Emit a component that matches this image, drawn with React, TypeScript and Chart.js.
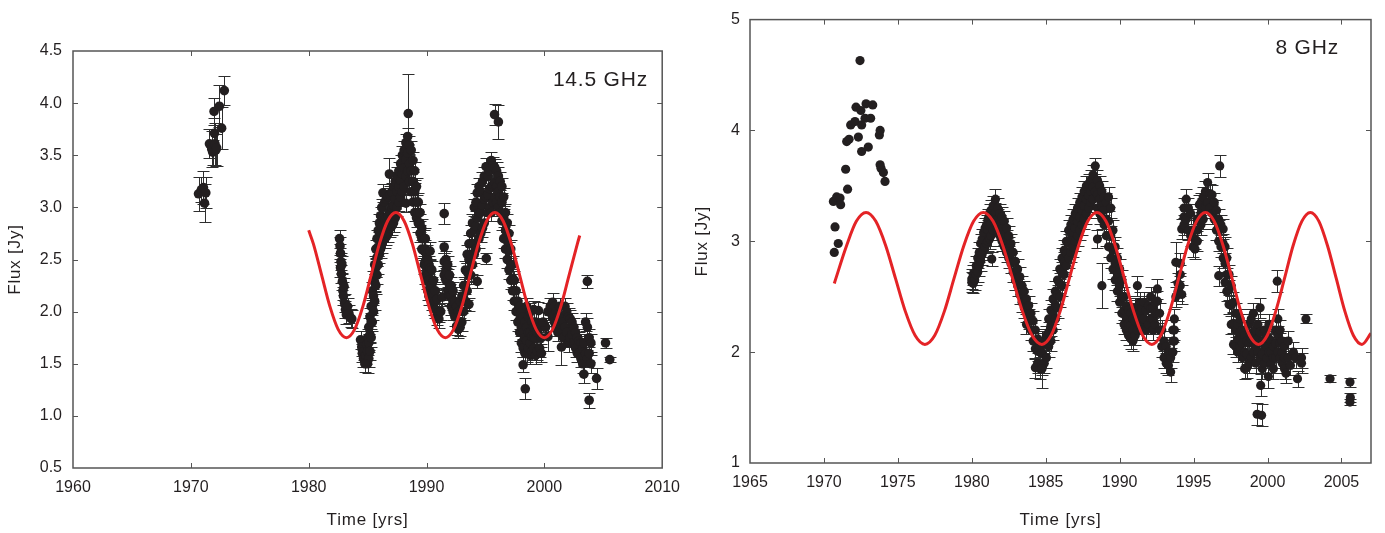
import React, { useEffect, useRef } from 'react';
import { Chart, registerables } from 'chart.js';

Chart.register(...registerables);

const FONT = "'Liberation Sans', Arial, Helvetica, sans-serif";
const INK = '#231f20';
const RED = '#e42326';

// ---------------- 14.5 GHz (left panel) ----------------
// [year, flux, error]
const L_EARLY: number[][] = [
  [1970.65, 3.13, 0.16], [1970.9, 3.17, 0.12], [1971.07, 3.19, 0.16], [1971.16, 3.04, 0.18],
  [1971.27, 3.14, 0.15], [1971.58, 3.61, 0.14], [1971.77, 3.56, 0.17], [1971.85, 3.53, 0.12],
  [1971.97, 3.92, 0.13], [1972.0, 3.71, 0.15], [1972.05, 3.61, 0.2], [1972.12, 3.55, 0.15],
  [1972.19, 3.57, 0.17], [1972.42, 3.97, 0.2], [1972.61, 3.76, 0.2], [1972.84, 4.12, 0.14],
];

// [year, flux, flux, ...] observations near that epoch, typical error L_ERR
const L_ERR = 0.085;
const L_BAND: number[][] = [
  [1982.62, 2.70], [1982.66, 2.63], [1982.70, 2.56, 2.42], [1982.74, 2.48], [1982.78, 2.36],
  [1982.82, 2.45], [1982.86, 2.29], [1982.90, 2.20], [1982.95, 2.15], [1983.00, 2.24],
  [1983.05, 2.08], [1983.12, 2.02], [1983.20, 1.97], [1983.30, 2.05], [1983.42, 1.98],
  [1983.55, 1.94], [1983.66, 1.93],
  [1984.40, 1.73], [1984.50, 1.66], [1984.55, 1.60], [1984.65, 1.55], [1984.72, 1.62],
  [1984.85, 1.58], [1984.92, 1.68],
  [1985.00, 1.50, 1.62, 1.75], [1985.10, 1.55, 1.70, 1.85], [1985.20, 1.62, 1.78, 1.95],
  [1985.30, 1.75, 1.90, 2.05], [1985.40, 1.90, 2.05, 2.20], [1985.50, 2.00, 2.15, 2.30],
  [1985.60, 2.10, 2.28, 2.45], [1985.70, 2.25, 2.42, 2.60], [1985.80, 2.35, 2.52, 2.70],
  [1985.90, 2.45, 2.62, 2.78], [1986.00, 2.55, 2.70, 2.85], [1986.10, 2.60, 2.76, 2.92],
  [1986.20, 2.65, 2.82, 3.00], [1986.30, 2.70, 2.90, 3.14], [1986.45, 2.70, 2.88, 3.05],
  [1986.60, 2.72, 2.90, 3.08], [1986.75, 2.75, 2.92, 3.10], [1986.90, 2.80, 2.96, 3.12],
  [1987.05, 2.82, 3.00, 3.15], [1987.20, 2.85, 3.02, 3.20], [1987.35, 2.90, 3.08, 3.25],
  [1987.50, 3.00, 3.15, 3.30], [1987.65, 3.05, 3.20, 3.35], [1987.80, 3.10, 3.26, 3.42],
  [1987.95, 3.15, 3.32, 3.50], [1988.10, 3.20, 3.38, 3.55], [1988.25, 3.30, 3.46, 3.62, 3.04],
  [1988.40, 3.35, 3.52, 3.68], [1988.55, 3.25, 3.42, 3.60], [1988.70, 3.15, 3.35, 3.55],
  [1988.85, 3.05, 3.25, 3.45], [1989.00, 2.95, 3.15, 3.35], [1989.15, 2.90, 3.05, 3.20],
  [1989.30, 2.85, 2.95, 3.05], [1989.45, 2.75, 2.85, 2.95], [1989.60, 2.60, 2.70, 2.80],
  [1989.80, 2.45, 2.58, 2.70], [1989.90, 2.35, 2.48, 2.60], [1990.00, 2.30, 2.42, 2.55],
  [1990.10, 2.20, 2.35, 2.50], [1990.20, 2.15, 2.30, 2.45], [1990.30, 2.25, 2.42, 2.58],
  [1990.45, 2.10, 2.25, 2.40], [1990.60, 2.05, 2.18, 2.30], [1990.75, 2.02, 2.10, 2.20],
  [1990.90, 1.96, 2.12], [1991.05, 1.99, 1.93], [1991.20, 2.00], [1991.35, 2.14],
  [1991.50, 2.48, 2.35], [1991.65, 2.30, 2.40, 2.50], [1991.80, 2.20, 2.32, 2.45],
  [1991.95, 2.15, 2.25, 2.35], [1992.10, 2.05, 2.15, 2.25], [1992.25, 2.00, 2.10, 2.20],
  [1992.40, 1.95, 2.10], [1992.55, 1.86, 2.05], [1992.70, 1.83, 2.00], [1992.85, 1.85, 2.10],
  [1993.00, 1.90, 2.15], [1993.15, 2.00, 2.12, 2.25], [1993.30, 2.10, 2.25, 2.40],
  [1993.45, 2.20, 2.38, 2.55], [1993.60, 2.35, 2.50, 2.65], [1993.75, 2.35, 2.55, 2.75],
  [1993.90, 2.45, 2.65, 2.85], [1994.05, 2.55, 2.78, 3.00], [1994.20, 2.60, 2.82, 3.05],
  [1994.30, 2.90, 3.14], [1994.45, 2.70, 2.95, 3.20], [1994.60, 2.75, 2.95, 3.15],
  [1994.75, 2.80, 3.02, 3.25], [1994.90, 2.85, 3.08, 3.30], [1995.05, 3.10, 3.39],
  [1995.20, 2.95, 3.12, 3.30], [1995.35, 3.00, 3.18, 3.35], [1995.50, 2.95, 3.20, 3.45],
  [1995.65, 3.05, 3.22, 3.40], [1995.80, 3.10, 3.24, 3.38], [1995.95, 3.05, 3.20, 3.35],
  [1996.10, 3.00, 3.15, 3.30], [1996.25, 2.95, 3.10, 3.25], [1996.40, 2.87, 3.05, 3.20],
  [1996.55, 2.70, 2.90, 3.10], [1996.70, 2.60, 2.78, 2.95], [1996.85, 2.50, 2.68, 2.85],
  [1997.00, 2.40, 2.58, 2.75], [1997.15, 2.30, 2.45, 2.60], [1997.30, 2.20, 2.32, 2.45],
  [1997.45, 2.10, 2.20, 2.30], [1997.60, 2.00, 2.10, 2.20], [1997.75, 1.90, 2.00, 2.10],
  [1997.90, 1.80, 1.92, 2.05], [1998.05, 1.70, 1.85, 2.00], [1998.20, 1.65, 1.80, 1.95],
  [1998.35, 1.60, 1.75, 1.90], [1998.50, 1.60, 1.72, 1.85, 2.05], [1998.65, 1.65, 1.80, 1.95],
  [1998.80, 1.58, 1.70, 1.80, 2.00], [1998.95, 1.62, 1.76, 1.90], [1999.10, 1.65, 1.75, 1.85, 2.02],
  [1999.25, 1.58, 1.74, 1.90], [1999.40, 1.62, 1.80], [1999.60, 1.65, 1.85], [1999.75, 1.60, 1.75],
  [2000.10, 1.85], [2000.30, 2.00], [2000.50, 2.05],
  [2000.70, 2.09, 1.95], [2000.85, 2.05, 1.90], [2001.00, 2.00, 1.85], [2001.15, 1.95, 1.80],
  [2001.30, 2.05, 1.88], [2001.45, 1.95], [2001.60, 1.90, 1.75], [2001.75, 2.05, 1.85],
  [2001.90, 2.00, 1.80], [2002.05, 1.95, 1.70], [2002.20, 1.93, 1.75], [2002.35, 1.90, 1.78],
  [2002.50, 1.85, 1.70], [2002.65, 1.80, 1.65], [2002.80, 1.75, 1.60], [2002.95, 1.72, 1.60],
  [2003.10, 1.70, 1.55], [2003.25, 1.65, 1.50], [2003.35, 1.70], [2003.50, 1.90, 1.60],
  [2003.65, 1.85, 1.55], [2003.80, 1.75, 1.60], [2003.95, 1.70, 1.50],
];

// [year, flux, error] isolated points with their own error bars
const L_SINGLE: number[][] = [
  [1984.77, 1.50, 0.08], [1986.85, 3.32, 0.15], [1988.45, 3.90, 0.38], [1989.90, 2.70, 0.10],
  [1991.50, 2.94, 0.10], [1991.50, 2.62, 0.06], [1993.60, 2.07, 0.06], [1994.30, 2.29, 0.06],
  [1995.07, 2.51, 0.05], [1995.77, 3.89, 0.10], [1996.10, 3.82, 0.16], [1998.20, 1.49, 0.07],
  [1998.38, 1.26, 0.10], [1999.50, 2.01, 0.08], [1999.90, 1.90, 0.10], [2000.30, 1.76, 0.14],
  [2001.45, 1.66, 0.17], [2003.35, 1.40, 0.08], [2003.65, 2.29, 0.06], [2003.80, 1.15, 0.07],
  [2004.43, 1.36, 0.10], [2005.19, 1.70, 0.05], [2005.55, 1.54, 0.02],
];

const L_FIT_YEARS = [
  1980.0, 1980.4, 1981.1, 1981.8, 1982.5, 1983.2, 1983.9, 1984.6, 1985.3, 1986.0, 1986.7, 1987.4,
  1988.1, 1988.8, 1989.5, 1990.2, 1990.9, 1991.6, 1992.3, 1993.0, 1993.7, 1994.4, 1995.1, 1995.8,
  1996.5, 1997.2, 1997.9, 1998.6, 1999.3, 2000.0, 2000.7, 2001.4, 2002.1, 2002.8, 2003.0,
];
const L_FIT_FLUX = [
  2.78, 2.65, 2.35, 2.05, 1.83, 1.75, 1.83, 2.05, 2.35, 2.65, 2.87, 2.95,
  2.87, 2.65, 2.35, 2.05, 1.83, 1.75, 1.83, 2.05, 2.35, 2.65, 2.87, 2.95,
  2.87, 2.65, 2.35, 2.05, 1.83, 1.75, 1.83, 2.05, 2.35, 2.65, 2.73,
];

// ---------------- 8 GHz (right panel) ----------------
// [year, flux] early points without error bars
const R_EARLY: number[][] = [
  [1970.64, 3.36], [1970.70, 2.90], [1970.75, 3.13], [1970.86, 3.40], [1970.97, 2.98],
  [1971.09, 3.39], [1971.13, 3.33], [1971.47, 3.65], [1971.54, 3.90], [1971.60, 3.47],
  [1971.70, 3.92], [1971.81, 4.05], [1972.10, 4.08], [1972.17, 4.21], [1972.33, 3.94],
  [1972.44, 4.63], [1972.50, 4.18], [1972.55, 4.05, 3.81], [1972.78, 4.11], [1972.85, 4.24],
  [1973.00, 3.85], [1973.16, 4.11], [1973.30, 4.23], [1973.75, 3.96], [1973.80, 4.00, 3.69],
  [1973.86, 3.66], [1974.02, 3.62], [1974.13, 3.54],
];

const R_ERR = 0.09;
const R_BAND: number[][] = [
  [1980.00, 2.63, 2.66], [1980.10, 2.62, 2.70], [1980.20, 2.65, 2.72], [1980.30, 2.70, 2.78],
  [1980.40, 2.72, 2.85], [1980.50, 2.78, 2.90], [1980.60, 2.82, 2.98], [1980.70, 2.88, 3.02],
  [1980.80, 2.92, 3.08], [1980.90, 2.95, 3.12], [1981.00, 2.98, 3.15], [1981.10, 3.00, 3.10, 3.20],
  [1981.20, 3.02, 3.14, 3.25], [1981.30, 3.05, 3.16, 3.28], [1981.45, 3.10, 3.21, 3.32],
  [1981.60, 3.15, 3.26, 3.38], [1981.75, 3.10, 3.20, 3.30], [1981.90, 3.05, 3.15, 3.25],
  [1982.05, 3.00, 3.11, 3.22], [1982.20, 2.95, 3.06, 3.18], [1982.35, 2.90, 3.01, 3.12],
  [1982.50, 2.85, 2.95, 3.05], [1982.65, 2.80, 2.98], [1982.80, 2.72, 2.90],
  [1982.95, 2.65, 2.82], [1983.10, 2.60, 2.75], [1983.25, 2.52, 2.68], [1983.40, 2.45, 2.60],
  [1983.55, 2.40, 2.55], [1983.70, 2.25, 2.36, 2.48], [1983.85, 2.30, 2.42], [1984.00, 2.20, 2.35],
  [1984.15, 2.10, 2.28], [1984.30, 1.86, 2.03, 2.20], [1984.45, 1.90, 2.01, 2.12],
  [1984.60, 1.85, 2.05], [1984.75, 1.88, 1.99, 2.10], [1984.90, 1.90, 2.08], [1985.05, 1.95, 2.15],
  [1985.20, 2.05, 2.18, 2.30], [1985.35, 2.10, 2.24, 2.38], [1985.50, 2.20, 2.34, 2.48],
  [1985.65, 2.30, 2.42, 2.55], [1985.80, 2.40, 2.52, 2.65], [1985.95, 2.50, 2.62, 2.75],
  [1986.10, 2.60, 2.72, 2.85], [1986.25, 2.70, 2.81, 2.92], [1986.40, 2.78, 2.89, 3.00],
  [1986.55, 2.85, 2.98, 3.10], [1986.70, 2.90, 3.02, 3.15], [1986.85, 2.95, 3.08, 3.20],
  [1987.00, 3.00, 3.12, 3.25], [1987.15, 3.05, 3.18, 3.30], [1987.30, 3.10, 3.22, 3.35],
  [1987.45, 3.15, 3.28, 3.40], [1987.60, 3.20, 3.32, 3.45], [1987.75, 3.25, 3.38, 3.50],
  [1987.90, 3.30, 3.41, 3.52], [1988.05, 3.35, 3.45, 3.55], [1988.20, 3.38, 3.49, 3.60],
  [1988.35, 3.45], [1988.50, 3.30, 3.42, 3.55], [1988.65, 3.25, 3.38, 3.50],
  [1988.80, 3.20, 3.32, 3.45], [1988.95, 3.15, 3.28, 3.40], [1989.10, 3.05, 3.20, 3.35],
  [1989.25, 2.95, 3.18, 3.40], [1989.40, 2.85, 3.05, 3.30], [1989.55, 2.75, 2.92, 3.10],
  [1989.70, 2.65, 2.80, 2.95], [1989.85, 2.55, 2.70, 2.85], [1990.00, 2.45, 2.60, 2.75],
  [1990.15, 2.35, 2.50, 2.65], [1990.30, 2.25, 2.38, 2.50], [1990.45, 2.20, 2.31, 2.42],
  [1990.60, 2.15, 2.26, 2.38], [1990.75, 2.12, 2.24, 2.35], [1990.90, 2.10, 2.20, 2.30],
  [1991.05, 2.15, 2.28, 2.40], [1991.20, 2.20, 2.40, 2.60], [1991.35, 2.25, 2.35, 2.45],
  [1991.50, 2.20, 2.30, 2.40], [1991.65, 2.30, 2.45], [1991.80, 2.20, 2.38],
  [1991.95, 2.25, 2.42], [1992.10, 2.30, 2.40, 2.50], [1992.25, 2.20, 2.30, 2.40],
  [1992.40, 2.25, 2.35, 2.45], [1992.55, 2.35, 2.46, 2.57], [1992.70, 2.20, 2.35],
  [1992.85, 2.05, 2.20], [1993.00, 1.95, 2.10], [1993.15, 1.90, 2.05], [1993.30, 1.88, 2.00],
  [1993.45, 1.82, 1.95], [1993.60, 2.00, 2.10, 2.20], [1993.70, 2.10, 2.20, 2.30], [1993.80, 2.50],
  [1993.95, 2.55, 2.62], [1994.10, 2.60, 2.70, 2.80], [1994.20, 2.52, 3.11],
  [1994.35, 3.15, 3.22, 3.30], [1994.50, 3.20, 3.38], [1994.65, 3.10, 3.30], [1994.80, 3.05, 3.25],
  [1994.95, 2.95, 3.10], [1995.10, 2.93, 3.02], [1995.25, 3.00, 3.10, 3.20], [1995.39, 3.33],
  [1995.50, 3.15, 3.25, 3.35], [1995.65, 3.20, 3.30, 3.40], [1995.80, 3.30, 3.45],
  [1995.95, 3.35, 3.53], [1996.10, 3.30, 3.43], [1996.25, 3.25, 3.42], [1996.40, 3.20, 3.35],
  [1996.55, 3.10, 3.28], [1996.70, 3.00, 3.10, 3.20, 2.69], [1996.85, 2.95, 3.15],
  [1997.00, 2.85, 2.98, 3.11], [1997.13, 2.63, 2.80, 2.95], [1997.25, 2.55, 2.70, 2.85],
  [1997.40, 2.43, 2.56, 2.70], [1997.55, 2.25, 2.42, 2.60], [1997.70, 2.07, 2.26, 2.45],
  [1997.85, 2.05, 2.20, 2.35], [1998.00, 2.00, 2.12, 2.25], [1998.15, 2.05, 2.18, 2.30],
  [1998.30, 1.95, 2.08, 2.20], [1998.45, 1.85, 2.00, 2.15], [1998.60, 1.86, 1.98, 2.10],
  [1998.75, 1.90, 2.08, 2.25], [1998.90, 1.95, 2.12, 2.30], [1999.05, 2.00, 2.18, 2.35],
  [1999.20, 1.90, 2.05, 2.20], [1999.35, 2.00, 2.12, 2.25], [1999.50, 1.95, 2.18, 2.40],
  [1999.65, 1.85, 1.98, 2.10], [1999.80, 1.90, 2.05, 2.20], [1999.95, 1.95, 2.05, 2.15],
  [2000.10, 2.00, 2.12, 2.25], [2000.25, 1.90, 2.00, 2.10], [2000.40, 1.85, 1.95, 2.05],
  [2000.55, 1.95, 2.08, 2.20], [2000.70, 2.00, 2.15, 2.30], [2000.85, 1.95, 2.08, 2.20],
  [2001.00, 1.90, 2.00, 2.10], [2001.15, 1.85, 1.95, 2.05], [2001.25, 1.81],
  [2001.40, 1.95, 2.10], [2001.55, 1.88], [2001.75, 2.00], [2001.90, 1.95], [2002.30, 1.95, 1.90],
];

const R_SINGLE: number[][] = [
  [1981.35, 2.84, 0.06], [1984.75, 1.85, 0.17], [1988.35, 3.68, 0.07], [1988.50, 3.02, 0.08],
  [1988.80, 2.60, 0.20], [1993.80, 2.81, 0.18], [1996.77, 3.68, 0.10], [1999.30, 1.44, 0.10],
  [1999.54, 1.70, 0.10], [1999.60, 1.43, 0.10], [2000.06, 1.78, 0.10], [2000.66, 2.64, 0.10],
  [2002.03, 1.76, 0.07], [2002.60, 2.30, 0.04], [2004.23, 1.76, 0.03], [2005.58, 1.73, 0.04],
  [2005.60, 1.59, 0.04], [2005.58, 1.55, 0.03],
];

const R_FIT_YEARS = [
  1970.7, 1971.53, 1972.19, 1972.85, 1973.51, 1974.18, 1974.84, 1975.5, 1976.17, 1976.83,
  1977.49, 1978.15, 1978.8, 1979.46, 1980.12, 1980.78, 1981.44, 1982.1, 1982.76, 1983.42,
  1984.08, 1984.74, 1985.36, 1985.98, 1986.6, 1987.22, 1987.84, 1988.46, 1989.08, 1989.7,
  1990.32, 1990.94, 1991.56, 1992.18, 1992.78, 1993.39, 1993.99, 1994.59, 1995.2, 1995.8,
  1996.4, 1997.0, 1997.6, 1998.19, 1998.79, 1999.39, 1999.98, 2000.56, 2001.15, 2001.73,
  2002.32, 2002.9, 2003.48, 2004.06, 2004.65, 2005.23, 2005.81, 2006.39, 2007.0,
];
const R_FIT_FLUX = [
  2.62, 2.96, 3.18, 3.26, 3.18, 2.96, 2.665, 2.37, 2.15, 2.07,
  2.15, 2.37, 2.665, 2.96, 3.18, 3.26, 3.18, 2.96, 2.665, 2.37,
  2.15, 2.07, 2.15, 2.37, 2.665, 2.96, 3.18, 3.26, 3.18, 2.96,
  2.665, 2.37, 2.15, 2.07, 2.15, 2.37, 2.665, 2.96, 3.18, 3.26,
  3.18, 2.96, 2.665, 2.37, 2.15, 2.07, 2.15, 2.37, 2.665, 2.96,
  3.18, 3.26, 3.18, 2.96, 2.665, 2.37, 2.15, 2.07, 2.17,
];

// ---------------- helpers ----------------
type Pt = { x: number; y: number; e: number };

function rowsToPoints(rows: number[][], err: number): Pt[] {
  const out: Pt[] = [];
  rows.forEach((r) => {
    for (let i = 1; i < r.length; i++) out.push({ x: r[0], y: r[i], e: err });
  });
  return out;
}
function triples(rows: number[][]): Pt[] {
  return rows.map((r) => ({ x: r[0], y: r[1], e: r[2] }));
}
function zip(xs: number[], ys: number[]) {
  return xs.map((x, i) => ({ x, y: ys[i] }));
}

const errorBarPlugin = {
  id: 'errorBars',
  beforeDatasetsDraw(chart: any) {
    const { ctx, chartArea: a } = chart;
    const xs = chart.scales.x;
    const ys = chart.scales.y;
    ctx.save();
    ctx.beginPath();
    ctx.rect(a.left, a.top, a.right - a.left, a.bottom - a.top);
    ctx.clip();
    ctx.strokeStyle = '#2e2e2e';
    ctx.lineWidth = 1;
    chart.data.datasets.forEach((ds: any) => {
      if (!ds.errorBars) return;
      ds.data.forEach((p: Pt) => {
        if (!p.e) return;
        const px = Math.round(xs.getPixelForValue(p.x)) + 0.5;
        const y1 = Math.round(ys.getPixelForValue(p.y + p.e)) + 0.5;
        const y2 = Math.round(ys.getPixelForValue(p.y - p.e)) + 0.5;
        ctx.beginPath();
        ctx.moveTo(px, y1);
        ctx.lineTo(px, y2);
        ctx.moveTo(px - 6, y1);
        ctx.lineTo(px + 6, y1);
        ctx.moveTo(px - 6, y2);
        ctx.lineTo(px + 6, y2);
        ctx.stroke();
      });
    });
    ctx.restore();
  },
};

const framePlugin = {
  id: 'frame',
  afterDraw(chart: any, _args: any, o: any) {
    const { ctx, chartArea: a } = chart;
    const xs = chart.scales.x;
    const ys = chart.scales.y;
    ctx.save();
    ctx.strokeStyle = '#555555';
    ctx.lineWidth = 1.5;
    ctx.strokeRect(a.left, a.top, a.right - a.left, a.bottom - a.top);
    ctx.lineWidth = 1;
    ctx.beginPath();
    xs.ticks.forEach((t: any) => {
      const p = Math.round(xs.getPixelForValue(t.value)) + 0.5;
      if (p <= a.left + 1 || p >= a.right - 1) return;
      ctx.moveTo(p, a.bottom);
      ctx.lineTo(p, a.bottom - 5);
      ctx.moveTo(p, a.top);
      ctx.lineTo(p, a.top + 5);
    });
    ys.ticks.forEach((t: any) => {
      const p = Math.round(ys.getPixelForValue(t.value)) + 0.5;
      if (p <= a.top + 1 || p >= a.bottom - 1) return;
      ctx.moveTo(a.left, p);
      ctx.lineTo(a.left + 5, p);
      ctx.moveTo(a.right, p);
      ctx.lineTo(a.right - 5, p);
    });
    ctx.stroke();

    ctx.fillStyle = INK;
    (ctx as any).letterSpacing = '0.8px';
    ctx.font = `17px ${FONT}`;
    ctx.textAlign = 'center';
    ctx.textBaseline = 'middle';
    ctx.fillText(o.xTitle, (a.left + a.right) / 2, o.xTitleY);
    ctx.save();
    ctx.translate(o.yTitleX, (a.top + a.bottom) / 2);
    ctx.rotate(-Math.PI / 2);
    ctx.fillText(o.yTitle, 0, 0);
    ctx.restore();
    ctx.font = `21px ${FONT}`;
    ctx.textAlign = 'right';
    ctx.fillText(o.label, o.labelX, o.labelY);
    ctx.restore();
  },
};

function makeConfig(p: {
  points: Pt[];
  fit: { x: number; y: number }[];
  xMin: number; xMax: number; xStep: number;
  yMin: number; yMax: number; yStep: number; yDecimals: number;
  padTop: number; padRight: number; yWidth: number; xHeight: number;
  yPad: number; radius: number;
  frame: any;
}): any {
  const tickFont = { family: FONT, size: 16 };
  return {
    type: 'scatter',
    data: {
      datasets: [
        {
          data: p.points,
          errorBars: true,
          pointRadius: p.radius,
          pointBackgroundColor: INK,
          pointBorderWidth: 0,
          pointBorderColor: INK,
          showLine: false,
          order: 1,
        },
        {
          type: 'line',
          data: p.fit,
          borderColor: RED,
          borderWidth: 3,
          pointRadius: 0,
          fill: false,
          cubicInterpolationMode: 'monotone',
          order: 0,
        },
      ],
    },
    options: {
      animation: false,
      responsive: false,
      events: [],
      layout: { padding: { top: p.padTop, right: p.padRight, left: 0, bottom: 0 } },
      plugins: {
        legend: { display: false },
        tooltip: { enabled: false },
        frame: p.frame,
      },
      scales: {
        x: {
          type: 'linear',
          min: p.xMin,
          max: p.xMax,
          grid: { display: false, drawTicks: false },
          border: { display: false },
          ticks: {
            stepSize: p.xStep,
            includeBounds: false,
            padding: 10,
            maxRotation: 0,
            color: INK,
            font: tickFont,
            callback: (v: any) => String(v),
          },
          afterFit: (s: any) => { s.height = p.xHeight; },
        },
        y: {
          type: 'linear',
          min: p.yMin,
          max: p.yMax,
          grid: { display: false, drawTicks: false },
          border: { display: false },
          ticks: {
            stepSize: p.yStep,
            includeBounds: false,
            padding: p.yPad,
            color: INK,
            font: tickFont,
            callback: (v: any) => Number(v).toFixed(p.yDecimals),
          },
          afterFit: (s: any) => { s.width = p.yWidth; },
        },
      },
    },
    plugins: [errorBarPlugin, framePlugin],
  };
}

function Panel({ width, left, build }: { width: number; left: number; build: () => any }) {
  const ref = useRef<HTMLCanvasElement>(null);
  useEffect(() => {
    const chart = new Chart(ref.current as HTMLCanvasElement, build());
    return () => chart.destroy();
  }, []);
  return (
    <canvas
      ref={ref}
      width={width}
      height={533}
      style={{ position: 'absolute', left, top: 0, width, height: 533, display: 'block' }}
    />
  );
}

export default function App() {
  const leftBuild = () =>
    makeConfig({
      points: [...triples(L_EARLY), ...rowsToPoints(L_BAND, L_ERR), ...triples(L_SINGLE)],
      fit: zip(L_FIT_YEARS, L_FIT_FLUX),
      xMin: 1960, xMax: 2010, xStep: 10,
      yMin: 0.5, yMax: 4.5, yStep: 0.5, yDecimals: 1,
      padTop: 51, padRight: 21, yWidth: 73, xHeight: 65, yPad: 11,
      radius: 4.8,
      frame: { xTitle: 'Time [yrs]', yTitle: 'Flux [Jy]', xTitleY: 520, yTitleX: 15.5, label: '14.5 GHz', labelX: 648, labelY: 80 },
    });
  const rightBuild = () =>
    makeConfig({
      points: [...rowsToPoints(R_EARLY, 0), ...rowsToPoints(R_BAND, R_ERR), ...triples(R_SINGLE)],
      fit: zip(R_FIT_YEARS, R_FIT_FLUX),
      xMin: 1965, xMax: 2007, xStep: 5,
      yMin: 1, yMax: 5, yStep: 1, yDecimals: 0,
      padTop: 15, padRight: 14, yWidth: 60, xHeight: 70, yPad: 10,
      radius: 4.6,
      frame: { xTitle: 'Time [yrs]', yTitle: 'Flux [Jy]', xTitleY: 520, yTitleX: 12.6, label: '8 GHz', labelX: 649, labelY: 48 },
    });
  return (
    <div style={{ position: 'fixed', left: 0, top: 0, width: 1385, height: 533, background: '#ffffff', overflow: 'hidden' }}>
      <Panel width={690} left={0} build={leftBuild} />
      <Panel width={695} left={690} build={rightBuild} />
    </div>
  );
}
